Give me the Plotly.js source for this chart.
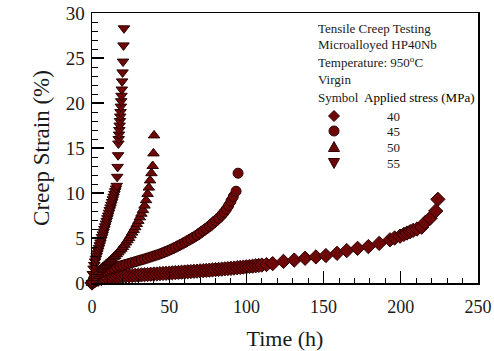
<!DOCTYPE html>
<html>
<head>
<meta charset="utf-8">
<script src="https://cdn.plot.ly/plotly-3.0.1.min.js"></script>
<style>html,body{margin:0;padding:0;background:#fff;}#chart{width:494px;height:351px;}</style>
</head>
<body>
<div id="chart"></div>
<script>
// Applied stress levels (MPa)
const stressLabels = ["40", "45", "50", "55"];

// 40 MPa (diamonds)
const t40 = [0,1,2,3,4,6,8,10,12,14,16,18,20,22,24,26,28,30,32,34,36,38,40,42,44,46,48,50,52,54,56,58,60,62,64,66,68,70,72,74,76,78,80,82,84,86,88,90,92,94,96,98,100,102,104,106,108,110,113,117,124,131,138,145,151.5,158.7,165,172,179,186,193,196,199.5,202,204,206,208,210.5,213.5,215.7,219,222.6,224];
const e40 = [0,0.2,0.3,0.37,0.42,0.5,0.56,0.6,0.64,0.67,0.7,0.73,0.76,0.78,0.8,0.83,0.85,0.87,0.9,0.92,0.94,0.97,0.99,1.01,1.04,1.06,1.08,1.1,1.13,1.15,1.17,1.2,1.22,1.25,1.27,1.3,1.32,1.35,1.37,1.4,1.43,1.45,1.48,1.51,1.54,1.57,1.6,1.63,1.66,1.7,1.73,1.77,1.8,1.84,1.87,1.91,1.95,1.99,2.05,2.15,2.4,2.55,2.75,2.9,3.05,3.3,3.6,3.85,4.05,4.4,4.8,5.0,5.2,5.4,5.55,5.7,5.85,6.0,6.2,6.7,7.2,8.0,9.3];

// 45 MPa (circles)
const t45 = [0,1,2,3,4,5,6,8,10,12,14,16,18,20,22,24,26,28,30,32,34,36,38,40,42,44,46,48,50,52,54,56,58,60,62,64,66,68,70,72,74,76,78,80,82,84,85.5,87,88.5,90,91.5,93.3,94.6];
const e45 = [0,0.45,0.7,0.85,0.97,1.07,1.15,1.3,1.43,1.55,1.66,1.77,1.87,1.97,2.07,2.17,2.27,2.37,2.47,2.57,2.67,2.78,2.89,3.0,3.11,3.23,3.36,3.5,3.65,3.8,3.97,4.14,4.32,4.5,4.7,4.9,5.1,5.3,5.55,5.8,6.05,6.3,6.6,6.9,7.2,7.55,7.85,8.2,8.6,9.1,9.6,10.2,12.2];

// 50 MPa (up triangles)
const t50 = [0,1,2,3,4,5,6,7,8,9,10,11,12,13,14,15,16,17,18,19,20,21,22,23,24,25,26,27,28,29,30,31,32,33,34,35,36,36.8,37.6,38.5,39.3,39.8,40.2];
const e50 = [0,0.5,0.8,1.05,1.25,1.45,1.6,1.75,1.9,2.05,2.2,2.35,2.5,2.65,2.85,3.0,3.2,3.4,3.6,3.8,4.0,4.25,4.5,4.75,5.0,5.3,5.6,5.9,6.2,6.55,6.9,7.3,7.7,8.1,8.6,9.2,9.9,10.6,11.4,12.2,13.0,14.4,16.4];

// 55 MPa (down triangles)
const t55 = [0,0.5,1,1.5,2,2.5,3,3.5,4,4.5,5,5.5,6,6.5,7,7.5,8,8.5,9,9.5,10,10.5,11,11.5,12,12.5,13,13.5,14,14.5,15,15.5,16,16.3,16.6,16.9,17.1,17.3,17.5,17.7,17.9,18.1,18.3,18.5,18.7,18.9,19.1,19.3,19.5,19.8,20.1,20.4,20.7];
const e55 = [0,1.0,1.6,2.0,2.4,2.7,3.0,3.3,3.6,3.9,4.2,4.5,4.8,5.1,5.4,5.7,6.0,6.3,6.6,6.9,7.2,7.5,7.8,8.1,8.4,8.7,9.0,9.3,9.6,9.9,10.2,10.5,10.8,11.8,12.9,14.2,15.5,16.0,16.5,17.0,17.5,18.0,18.5,19.0,19.6,20.2,20.8,21.5,22.4,23.4,24.6,26.4,28.3];

// Text block lines
const infoLines = ["Tensile Creep Testing", "Microalloyed HP40Nb", "Temperature: 950<sup>o</sup>C", "Virgin"];
const headerSymbol = "Symbol";
const headerStress = "Applied stress (MPa)";
const keyShapes = ["diamond", "circle", "triangle-up", "triangle-down"];

const fillC = "#6e0808";
const edgeC = "#2a0000";

function series(t, e, sym, size, name) {
  return {x: t, y: e, type: "scatter", mode: "markers", name: name, showlegend: false, cliponaxis: false,
    marker: {symbol: sym, size: size, color: fillC, line: {color: edgeC, width: 1}}};
}

const data = [
  series(t40, e40, keyShapes[0], 11, stressLabels[0]),
  series(t45, e45, keyShapes[1], 10, stressLabels[1]),
  series(t50, e50, keyShapes[2], 10, stressLabels[2]),
  series(t55, e55, keyShapes[3], 10, stressLabels[3])
];

// geometry of plot area in pixels
const W = 494, H = 351;
const L = 92, R = 478, T = 13, B = 283;
const px = x => (x - L) / (R - L);
const py = y => (B - y) / (B - T);

const serif = "Liberation Serif";
const txtC = "#1a1a1a";
const annotations = [];
const lineY = [29, 45, 62, 79];
infoLines.forEach((s, i) => annotations.push({xref: "paper", yref: "paper", x: px(316), y: py(lineY[i]), xanchor: "left", yanchor: "middle", text: s, showarrow: false, font: {family: serif, size: 13, color: txtC}}));
annotations.push({xref: "paper", yref: "paper", x: px(316), y: py(97), xanchor: "left", yanchor: "middle", text: headerSymbol, showarrow: false, font: {family: serif, size: 13, color: txtC}});
annotations.push({xref: "paper", yref: "paper", x: px(362), y: py(97), xanchor: "left", yanchor: "middle", text: headerStress, showarrow: false, font: {family: serif, size: 13, color: "#000"}});

// legend key glyphs (drawn as small shapes in paper space)
const symY = [116, 131, 147, 163];
const keyX = 334;
function keyPath(kind, cx, cy) {
  const r = 5;
  let pts;
  if (kind === "diamond") pts = [[cx, cy - 5.5], [cx + 5.5, cy], [cx, cy + 5.5], [cx - 5.5, cy]];
  else if (kind === "triangle-up") pts = [[cx, cy - 5.5], [cx + 5.5, cy + 4.5], [cx - 5.5, cy + 4.5]];
  else pts = [[cx - 5.5, cy - 4.5], [cx + 5.5, cy - 4.5], [cx, cy + 5.5]];
  return "M" + pts.map(p => px(p[0]) + "," + py(p[1])).join(" L") + " Z";
}
const shapes = [];
stressLabels.forEach((s, i) => {
  if (keyShapes[i] === "circle") {
    shapes.push({type: "circle", xref: "paper", yref: "paper", x0: px(keyX - 5), x1: px(keyX + 5), y0: py(symY[i] + 5), y1: py(symY[i] - 5), fillcolor: fillC, line: {color: edgeC, width: 1}});
  } else {
    shapes.push({type: "path", xref: "paper", yref: "paper", path: keyPath(keyShapes[i], keyX, symY[i]), fillcolor: fillC, line: {color: edgeC, width: 1}});
  }
  annotations.push({xref: "paper", yref: "paper", x: px(385), y: py(symY[i]), xanchor: "left", yanchor: "middle", text: s, showarrow: false, font: {family: serif, size: 13, color: txtC}});
});

const layout = {
  width: W, height: H,
  margin: {l: L, r: W - R, t: T, b: H - B, pad: 0},
  paper_bgcolor: "#fff", plot_bgcolor: "#fff",
  showlegend: false,
  font: {family: serif, color: txtC},
  xaxis: {
    range: [0, 250], tickvals: [0, 50, 100, 150, 200, 250], ticks: "inside", ticklen: 12, tickwidth: 1.3, tickcolor: "#000",
    minor: {dtick: 10, tick0: 0, ticks: "inside", ticklen: 5, tickwidth: 1, tickcolor: "#000", showgrid: false},
    showline: true, linecolor: "#000", linewidth: 1.5, mirror: true, showgrid: false, zeroline: false,
    ticklabelstandoff: 7,
    tickfont: {family: serif, size: 18, color: txtC},
    title: {text: "Time (h)", font: {family: serif, size: 22, color: txtC}, standoff: 14}
  },
  yaxis: {
    range: [0, 30], tickvals: [0, 5, 10, 15, 20, 25, 30], ticks: "inside", ticklen: 12, tickwidth: 1.3, tickcolor: "#000",
    minor: {dtick: 1, tick0: 0, ticks: "inside", ticklen: 6, tickwidth: 1, tickcolor: "#000", showgrid: false},
    showline: true, linecolor: "#000", linewidth: 1.5, mirror: true, showgrid: false, zeroline: false,
    ticklabelstandoff: 2,
    tickfont: {family: serif, size: 19, color: txtC},
    title: {text: "Creep Strain (%)", font: {family: serif, size: 23, color: txtC}, standoff: 9}
  },
  shapes: shapes,
  annotations: annotations
};

Plotly.newPlot("chart", data, layout, {displayModeBar: false, staticPlot: true});
</script>
</body>
</html>
